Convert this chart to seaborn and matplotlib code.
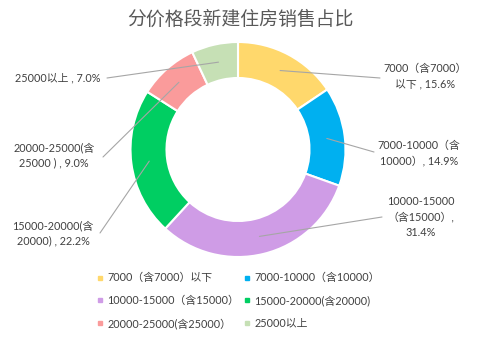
import numpy as np
import matplotlib
matplotlib.use("Agg")
import matplotlib.pyplot as plt
from matplotlib.lines import Line2D
import seaborn as sns

# Share of new residential sales by price band (%)
categories = ["7000（含7000）以下", "7000-10000（含10000）", "10000-15000（含15000）",
              "15000-20000(含20000)", "20000-25000(含25000）", "25000以上"]
shares = [15.6, 14.9, 31.4, 22.2, 9.0, 7.0]
label_templates = ["7000（含7000）\n以下 , {}", "7000-10000（含\n10000）, {}",
                   "10000-15000\n（含15000）,\n{}", "15000-20000(含\n20000) , {}",
                   "20000-25000(含\n25000 ) , {}", "25000以上 , {}"]
colors = ["#FFD86C", "#00B0F0", "#CF9CE6", "#00CE62", "#FA9B9B", "#C6E0B5"]
title = "分价格段新建住房销售占比"

sns.set_theme(style="white")
plt.rcParams["font.family"] = ["Lato", "Noto Sans CJK SC", "DejaVu Sans"]

W, H = 480, 341
fig = plt.figure(figsize=(W / 100, H / 100), dpi=100)
ax = fig.add_axes([0, 0, 1, 1])

cx, cy, R, ring = 238, H - 149.5, 107.5, 36
wedges, _ = ax.pie(shares, colors=colors, startangle=90, counterclock=False,
                   center=(cx, cy), radius=R,
                   wedgeprops=dict(width=ring, edgecolor="white", linewidth=1.5))
ax.set_xlim(0, W)
ax.set_ylim(0, H)
ax.set_aspect("equal")
ax.axis("off")

# label anchor: (text centre x, text centre y, leader end x, leader end y) in px from top-left
label_layout = [(425, 76, 380, 78), (419, 153, 374, 152), (421, 217, 382, 217),
                (53, 233, 100, 233), (54, 155, 103, 157), (58, 78, 107, 78)]
rm = R - ring / 2
for w, tmpl, v, (tx, ty, ex, ey) in zip(wedges, label_templates, shares, label_layout):
    ang = np.deg2rad((w.theta1 + w.theta2) / 2)
    sx, sy = cx + rm * np.cos(ang), cy + rm * np.sin(ang)
    ax.plot([sx, ex], [sy, H - ey], color="#A6A6A6", lw=0.8, zorder=3)
    ax.text(tx, H - ty, tmpl.format(f"{v:.1f}%"), ha="center", va="center",
            fontsize=7.8, color="#404040", linespacing=1.45)

fig.text(240 / W, 1 - 19 / H, title, ha="center", va="center", fontsize=13.6,
         color="#595959", family=["Noto Sans CJK SC", "DejaVu Sans"])

handles = [Line2D([], [], marker="s", linestyle="none", markersize=3,
                  markerfacecolor=c, markeredgecolor=c) for c in colors]
order = [0, 2, 4, 1, 3, 5]
fig.legend([handles[i] for i in order], [categories[i] for i in order],
           loc="upper left", bbox_to_anchor=(92 / W, 1 - 267 / H), ncol=2,
           frameon=False, fontsize=7.8, labelcolor="#404040", borderpad=0,
           handlelength=0.5, handletextpad=0.4, columnspacing=0.5,
           labelspacing=1.08)

fig.savefig("out.png", dpi=100, facecolor="white")
